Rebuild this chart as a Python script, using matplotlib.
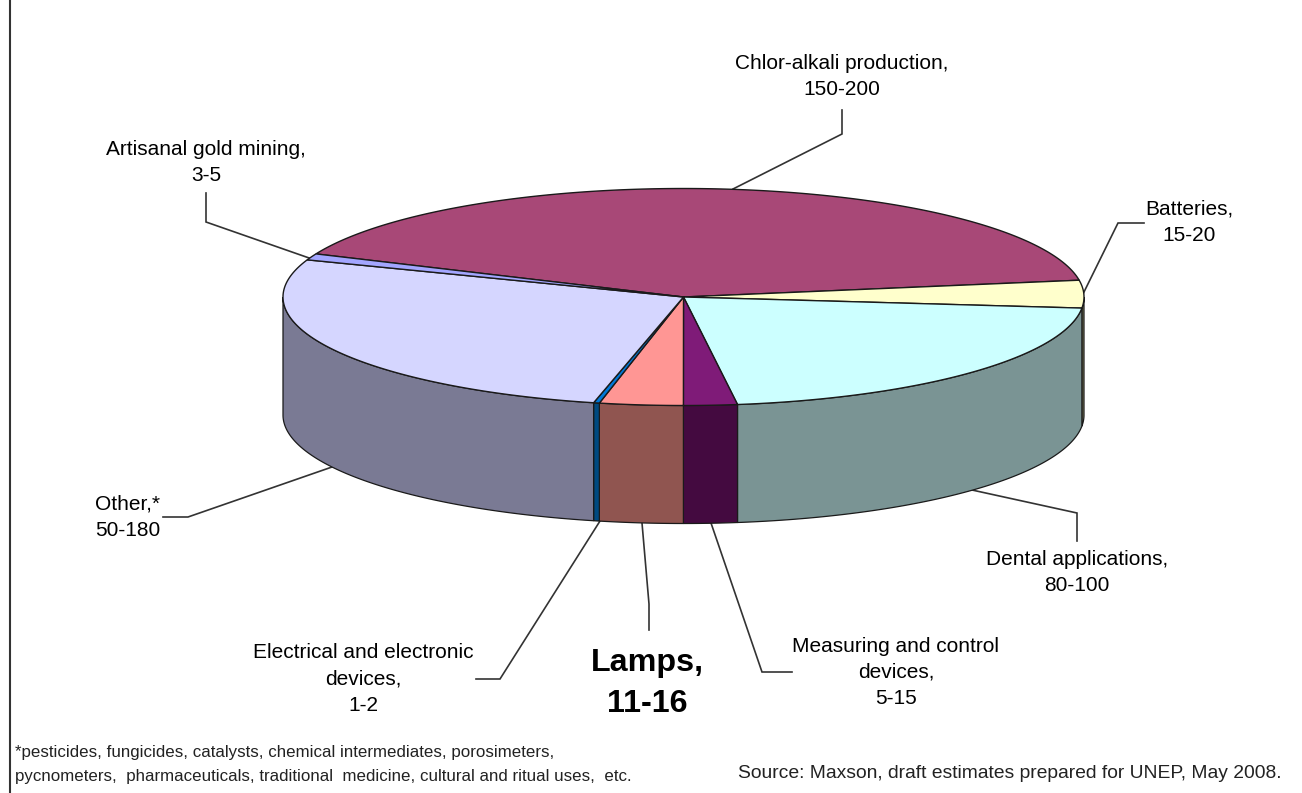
#!/usr/bin/env python3
# Global mercury consumption, 3D-look pie chart (tonnes, slice sizes)
import numpy as np
import matplotlib
matplotlib.use("Agg")
import matplotlib.pyplot as plt

categories = ["Chlor-alkali production", "Batteries", "Dental applications",
              "Measuring and control devices", "Lamps",
              "Electrical and electronic devices", "Other", "Artisanal gold mining"]
ranges = ["150-200", "15-20", "80-100", "5-15", "11-16", "1-2", "50-180", "3-5"]
values = [175, 17.5, 90.5, 9.2, 14.35, 1.0, 115, 4]
top_colors = ["#A84877", "#FFFFCC", "#CCFFFF", "#7F1B78", "#FF9694", "#0078D8", "#D5D6FF", "#A3A6FF"]
wall_colors = ["#7A3358", "#8F8F66", "#7A9494", "#440A40", "#905550", "#004A80", "#7A7A94", "#5F5F94"]

CX, CY = 683.5, 297.0
RX, RY = 400.5, 108.5
DEPTH = 118.0
START = 8.9  # degrees, ellipse parameter where chlor-alkali ends

plt.rcParams["font.family"] = ["Liberation Sans", "DejaVu Sans"]

fig = plt.figure(figsize=(13.02, 7.93), dpi=100)
ax = fig.add_axes([0, 0, 1, 1])
ax.set_xlim(0, 1302)
ax.set_ylim(793, 0)
ax.axis("off")

EDGE = "#1a1a1a"


def arc(a0, a1, depth=0.0):
    t = np.radians(np.linspace(a0, a1, 200))
    return CX + RX * np.cos(t), CY - RY * np.sin(t) + depth


mid = np.array(values, dtype=float)
sweep = mid / mid.sum() * 360.0
# chlor-alkali runs clockwise into START, so its first edge sits one sweep back
bounds = START + sweep[0] - np.concatenate([[0], np.cumsum(sweep)])

# walls first: only the part of each slice on the front half of the ellipse
for i in range(len(mid)):
    a0, a1 = bounds[i], bounds[i + 1]
    for shift in (0, -360):
        s0, s1 = min(a0 + shift, 0), max(a1 + shift, -180)
        if s0 <= s1:
            continue
        x, y = arc(s0, s1)
        xb, yb = arc(s1, s0, DEPTH)
        ax.fill(np.r_[x, xb], np.r_[y, yb], fc=wall_colors[i], ec=EDGE, lw=0.9, zorder=2)

# top face
for i in range(len(mid)):
    x, y = arc(bounds[i], bounds[i + 1])
    ax.fill(np.r_[CX, x], np.r_[CY, y], fc=top_colors[i], ec=EDGE, lw=1.0, zorder=3)

# leader lines
leaders = [
    ([842, 842, 733], [110, 134, 189]),
    ([1144, 1118, 1083], [223, 223, 294]),
    ([1077, 1077, 972], [541, 513, 490]),
    ([792, 762, 711], [672, 672, 523]),
    ([649, 649, 642], [630, 604, 523]),
    ([476, 500, 600], [679, 679, 521]),
    ([332, 188, 163], [467, 517, 517]),
    ([206, 206, 312], [193, 222, 259]),
]
for xs, ys in leaders:
    ax.plot(xs, ys, color="#333333", lw=1.2, zorder=1, solid_joinstyle="miter")

# labels, name and range
label_pos = [(842, 76.5), (1189, 222.5), (1077, 572.5), (896, 672.5), (647, 683.5), (363, 679), (128, 517.5), (206, 162.5)]
label_text = [
    f"{categories[0]},\n{ranges[0]}",
    f"{categories[1]},\n{ranges[1]}",
    f"{categories[2]},\n{ranges[2]}",
    f"Measuring and control\ndevices,\n{ranges[3]}",
    f"{categories[4]},\n{ranges[4]}",
    f"Electrical and electronic\ndevices,\n{ranges[5]}",
    f"{categories[6]},*\n{ranges[6]}",
    f"{categories[7]},\n{ranges[7]}",
]
for i, ((x, y), s) in enumerate(zip(label_pos, label_text)):
    is_lamps = categories[i] == "Lamps"
    ax.text(x, y, s, ha="center", va="center", multialignment="center",
            fontsize=23.2 if is_lamps else 15, fontweight="bold" if is_lamps else "normal",
            color="black", linespacing=1.48 if is_lamps else 1.5, zorder=5)

# page rule and footnotes
ax.plot([10, 10], [0, 793], color="#333333", lw=1.5, zorder=1)
ax.text(15, 752, "*pesticides, fungicides, catalysts, chemical intermediates, porosimeters,",
        fontsize=12.2, va="center", ha="left", color="#222222")
ax.text(15, 776.5, "pycnometers,  pharmaceuticals, traditional  medicine, cultural and ritual uses,  etc.",
        fontsize=12.2, va="center", ha="left", color="#222222")
ax.text(1282, 773, "Source: Maxson, draft estimates prepared for UNEP, May 2008.",
        fontsize=13.85, va="center", ha="right", color="#222222")

fig.savefig("out.png", dpi=100, facecolor="white")
